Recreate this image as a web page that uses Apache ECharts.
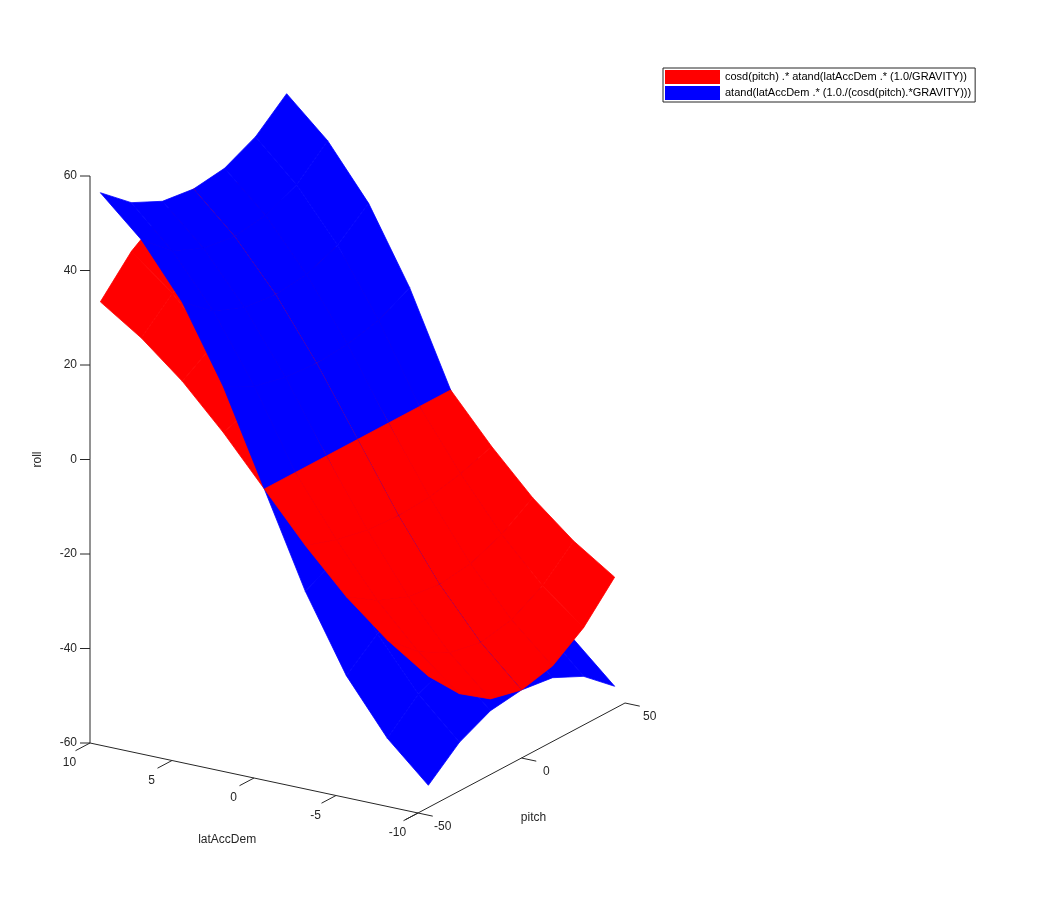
<!DOCTYPE html>
<html><head><meta charset="utf-8">
<script src="https://cdn.jsdelivr.net/npm/echarts@6/dist/echarts.min.js"></script>
<style>html,body{margin:0;padding:0;background:#fff}#c{width:1050px;height:914px}</style>
</head><body><div id="c"></div>
<script>
const latVals = [-10,-7.5,-5,-2.5,0,2.5,5,7.5,10];
const pitchVals = [-45,-30,-15,0,15,30,45];
const blueZ = [
 [-55.3,-49.7,-46.5,-45.6,-46.5,-49.7,-55.3],
 [-47.2,-41.4,-38.4,-37.4,-38.4,-41.4,-47.2],
 [-35.8,-30.5,-27.8,-27.0,-27.8,-30.5,-35.8],
 [-19.8,-16.4,-14.8,-14.3,-14.8,-16.4,-19.8],
 [0,0,0,0,0,0,0],
 [19.8,16.4,14.8,14.3,14.8,16.4,19.8],
 [35.8,30.5,27.8,27.0,27.8,30.5,35.8],
 [47.2,41.4,38.4,37.4,38.4,41.4,47.2],
 [55.3,49.7,46.5,45.6,46.5,49.7,55.3]
];
const redZ = [
 [-32.2,-39.4,-44.0,-45.6,-44.0,-39.4,-32.2],
 [-26.4,-32.4,-36.1,-37.4,-36.1,-32.4,-26.4],
 [-19.1,-23.4,-26.1,-27.0,-26.1,-23.4,-19.1],
 [-10.1,-12.4,-13.8,-14.3,-13.8,-12.4,-10.1],
 [0,0,0,0,0,0,0],
 [10.1,12.4,13.8,14.3,13.8,12.4,10.1],
 [19.1,23.4,26.1,27.0,26.1,23.4,19.1],
 [26.4,32.4,36.1,37.4,36.1,32.4,26.4],
 [32.2,39.4,44.0,45.6,44.0,39.4,32.2]
];
const zTicks = [-60,-40,-20,0,20,40,60];
const latTicks = [10,5,0,-5,-10];
const pitchTicks = [-50,0,50];
const names = ['cosd(pitch) .* atand(latAccDem .* (1.0/GRAVITY))','atand(latAccDem .* (1.0./(cosd(pitch).*GRAVITY)))'];

// orthographic view projection (to page units)
function proj(lat,p,z){
  return [254 - lat*16.4 + (p+50)*2.07, 778 - 3.5*lat - 1.1*(p+50) - 4.725*(z+60)];
}
const FONT = 'Liberation Sans, Arial, sans-serif';
function render(params, api){
  const P = (a,b,c)=>api.coord(proj(a,b,c));
  const ch = [];
  // axes
  const line=(a,b)=>ch.push({type:'line',shape:{x1:a[0],y1:a[1],x2:b[0],y2:b[1]},style:{stroke:'#262626',lineWidth:1}});
  const text=(pt,s,al,va)=>ch.push({type:'text',x:pt[0],y:pt[1],style:{text:s,fill:'#262626',font:'12px '+FONT,align:al,verticalAlign:va}});
  line(P(10,-50,-60),P(10,-50,60));
  zTicks.forEach(z=>{const a=P(10,-50,z);line(a,[a[0]-10,a[1]]);text([a[0]-13,a[1]],String(z),'right','middle');});
  line(P(10,-50,-60),P(-10,-50,-60));
  latTicks.forEach(l=>{const a=P(l,-50,-60),b=P(l,-57,-60);line(a,b);text([b[0]-6,b[1]+12],String(l),'center','middle');});
  line(P(-10,-56,-60),P(-10,50,-60));
  pitchTicks.forEach(p=>{const a=P(-10,p,-60),b=P(-10.9,p,-60);line(a,b);text([b[0]+10,b[1]+11],String(p),'center','middle');});
  text(P(0,-62,-60).map((v,i)=>v+(i?48:-2)),'latAccDem','center','middle');
  text(P(-10,0,-60).map((v,i)=>v+(i?60:12)),'pitch','center','middle');
  ch.push({type:'text',x:38,y:api.coord(proj(10,-50,0))[1],rotation:Math.PI/2,style:{text:'roll',fill:'#262626',font:'12px '+FONT,align:'center',verticalAlign:'middle'}});
  // surfaces: cells far-to-near
  const cells=[];
  for(let i=0;i<latVals.length-1;i++)for(let j=0;j<pitchVals.length-1;j++)cells.push([i,j]);
  cells.sort((a,b)=>(latVals[b[0]]+pitchVals[b[1]]/5)-(latVals[a[0]]+pitchVals[a[1]]/5));
  const quad=(Z,i,j,col)=>{
    const pts=[[i,j],[i+1,j],[i+1,j+1],[i,j+1]].map(([a,b])=>P(latVals[a],pitchVals[b],Z[a][b]));
    ch.push({type:'polygon',shape:{points:pts},style:{fill:col,stroke:col,lineWidth:0.8}});
  };
  cells.forEach(([i,j])=>{
    const pos = latVals[i]+latVals[i+1] > 0;
    if(pos){quad(redZ,i,j,'#ff0000');quad(blueZ,i,j,'#0000ff');}
    else{quad(blueZ,i,j,'#0000ff');quad(redZ,i,j,'#ff0000');}
  });
  return {type:'group',children:ch};
}
const chart = echarts.init(document.getElementById('c'),null,{renderer:'canvas'});
chart.setOption({
  animation:false,
  grid:{left:0,right:0,top:0,bottom:0},
  xAxis:{type:'value',min:0,max:1050,show:false},
  yAxis:{type:'value',min:0,max:914,inverse:true,show:false},
  legend:{left:663,top:68,orient:'vertical',borderColor:'#262626',borderWidth:1,padding:[2,4,2,2],itemGap:2,itemWidth:55,itemHeight:14,icon:'rect',textStyle:{fontSize:11,fontFamily:FONT,color:'#000'},data:names},
  series:[
    {type:'custom',name:names[0],coordinateSystem:'cartesian2d',itemStyle:{color:'#ff0000'},data:[[0,0]],renderItem:render,silent:true},
    {type:'custom',name:names[1],coordinateSystem:'cartesian2d',itemStyle:{color:'#0000ff'},data:[[0,0]],renderItem:()=>({type:'group',children:[]})}
  ]
});
</script></body></html>
